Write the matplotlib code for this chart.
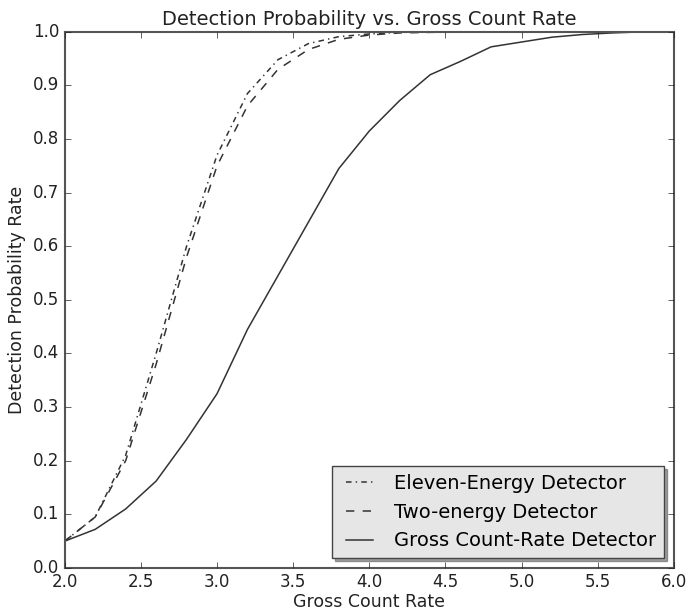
import matplotlib
matplotlib.use('Agg')
import matplotlib.pyplot as plt

# gross count rate grid
rate = [2.0, 2.2, 2.4, 2.6, 2.8, 3.0, 3.2, 3.4, 3.6, 3.8, 4.0,
        4.2, 4.4, 4.6, 4.8, 5.0, 5.2, 5.4, 5.6, 5.8, 6.0]

eleven_energy = [0.05, 0.095, 0.21, 0.40, 0.60, 0.77, 0.885, 0.948, 0.978, 0.991, 0.996,
                 0.999, 1.0, 1.0, 1.0, 1.0, 1.0, 1.0, 1.0, 1.0, 1.0]
two_energy = [0.05, 0.095, 0.20, 0.38, 0.58, 0.75, 0.862, 0.93, 0.967, 0.986, 0.994,
              0.998, 0.999, 1.0, 1.0, 1.0, 1.0, 1.0, 1.0, 1.0, 1.0]
gross_count = [0.05, 0.072, 0.11, 0.162, 0.24, 0.325, 0.445, 0.545, 0.645, 0.745, 0.815,
               0.872, 0.92, 0.945, 0.972, 0.981, 0.99, 0.995, 0.998, 1.0, 1.0]

plt.style.use('classic')
plt.rcParams['font.family'] = ['DejaVu Sans']

fig = plt.figure(figsize=(6.89, 6.12), dpi=100)
ax = fig.add_axes([0.094, 0.072, 0.884, 0.876])

ax.plot(rate, eleven_energy, color='#333333', linestyle=(0, (4, 3, 1, 3)), lw=1.1,
        label='Eleven-Energy Detector')
ax.plot(rate, two_energy, color='#333333', linestyle='--', lw=1.1,
        label='Two-energy Detector')
ax.plot(rate, gross_count, color='#333333', linestyle='-', lw=1.1,
        label='Gross Count-Rate Detector')

ax.set_xlim(2.0, 6.0)
ax.set_ylim(0.0, 1.0)
ax.set_xticks([2.0, 2.5, 3.0, 3.5, 4.0, 4.5, 5.0, 5.5, 6.0])
ax.set_yticks([i / 10 for i in range(11)])
ax.tick_params(labelsize=12, colors='#222222')
for sp in ax.spines.values():
    sp.set_color('#555555')
    sp.set_linewidth(1.5)

ax.set_title('Detection Probability vs. Gross Count Rate', fontsize=14, color='#222222')
ax.set_xlabel('Gross Count Rate', fontsize=12.5, color='#222222', labelpad=1)
ax.set_ylabel('Detection Probability Rate', fontsize=12.5, color='#222222')

leg = ax.legend(loc='lower right', shadow=True, fontsize=14, fancybox=False)
leg.get_frame().set_facecolor('#e6e6e6')
leg.get_frame().set_edgecolor('#444444')

fig.savefig('out.png', dpi=100)
